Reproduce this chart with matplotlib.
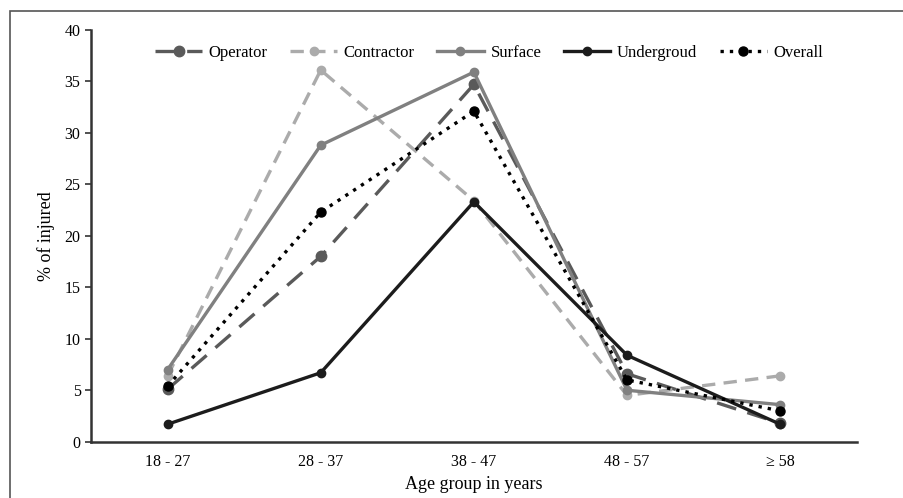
import matplotlib.pyplot as plt
from matplotlib.patches import Rectangle

plt.rcParams['font.family'] = ['Liberation Serif', 'DejaVu Serif']

AGE_GROUPS = ["18 - 27", "28 - 37", "38 - 47", "48 - 57", "\u2265 58"]
OPERATOR    = [5.1, 18.0, 34.7, 6.6, 1.8]
CONTRACTOR  = [6.4, 36.1, 23.4, 4.5, 6.4]
SURFACE     = [7.0, 28.8, 35.9, 5.0, 3.6]
UNDERGROUND = [1.7, 6.7, 23.3, 8.4, 1.7]
OVERALL     = [5.4, 22.3, 32.1, 6.0, 3.0]

fig = plt.figure(figsize=(9.04, 4.98), dpi=100)
ax = fig.add_axes([0.1007, 0.113, 0.847, 0.827])

# frame around the whole figure (as in the pasted original)
fig.patches.append(Rectangle((10 / 904, -0.05), 1.05, 1 - 11 / 498 + 0.05,
                             transform=fig.transFigure, fill=False,
                             edgecolor="#555555", lw=1.2))

x = range(len(AGE_GROUPS))
ax.plot(x, OPERATOR, color="#5a5a5a", lw=2.4, ls=(0, (6, 3.5)),
        marker="o", ms=7.5, label="Operator")
ax.plot(x, CONTRACTOR, color="#ababab", lw=2.4, ls=(0, (4, 2.5)),
        marker="o", ms=6, label="Contractor")
ax.plot(x, SURFACE, color="#808080", lw=2.4, ls="-",
        marker="o", ms=6, label="Surface")
ax.plot(x, UNDERGROUND, color="#1c1c1c", lw=2.4, ls="-",
        marker="o", ms=6, label="Undergroud")
ax.plot(x, OVERALL, color="black", lw=2.4, ls=(0, (1, 1.8)),
        marker="o", ms=6.5, label="Overall")

ax.set_xlim(-0.5, 4.5)
ax.set_ylim(0, 40)
ax.set_yticks(range(0, 41, 5))
ax.set_xticks(list(x))
ax.set_xticklabels(AGE_GROUPS)
ax.tick_params(axis="x", length=0, pad=9, labelsize=11.5)
ax.tick_params(axis="y", length=4, width=1.2, direction="out", labelsize=11.5,
               color="#333333")
for side in ("top", "right"):
    ax.spines[side].set_visible(False)
for side in ("left", "bottom"):
    ax.spines[side].set_linewidth(1.8)
    ax.spines[side].set_color("#333333")

ax.set_ylabel("% of injured", fontsize=13, labelpad=7)
ax.set_xlabel("Age group in years", fontsize=13, labelpad=4)

ax.legend(loc="center", bbox_to_anchor=(0.52, 0.944), ncol=5,
          frameon=False, fontsize=12, handlelength=2.8, columnspacing=1.35,
          handletextpad=0.4)

fig.savefig("out.png", dpi=100)
